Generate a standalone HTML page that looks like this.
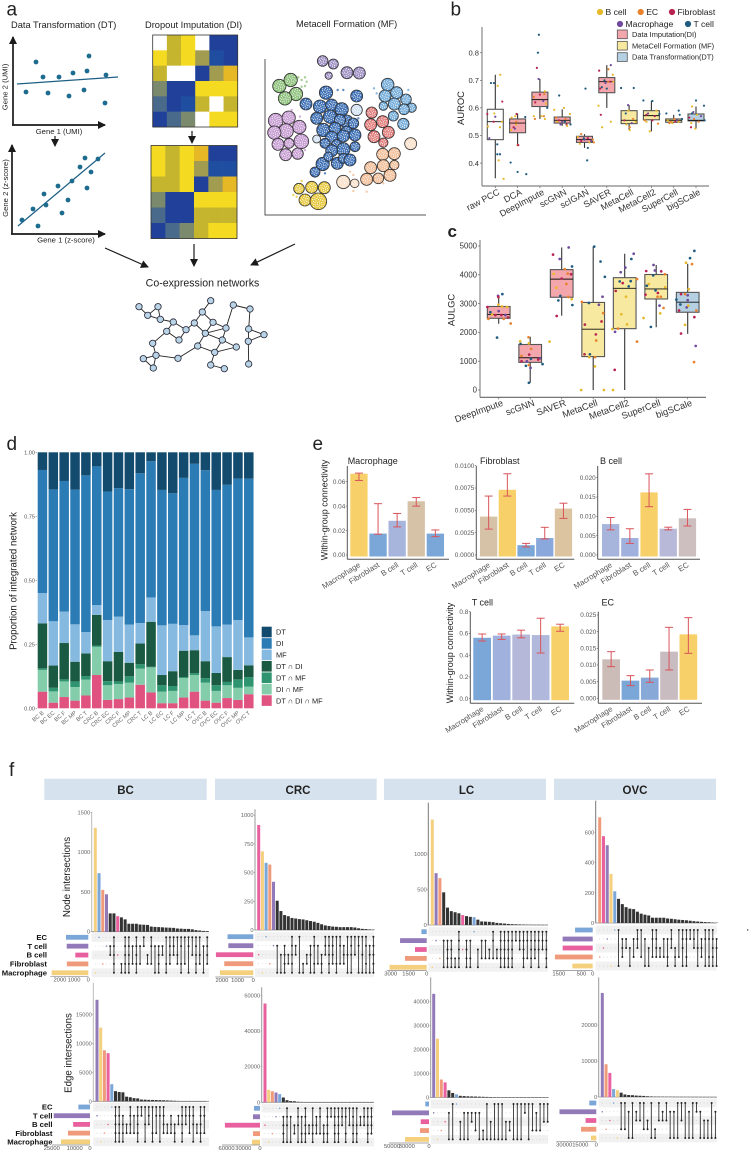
<!DOCTYPE html>
<html lang="en">
<head>
<meta charset="utf-8">
<title>Co-expression network benchmark figure</title>
<style>
html,body{margin:0;padding:0;background:#fff;width:750px;height:1154px;overflow:hidden}
svg{display:block;filter:blur(.3px)}
text{font-family:"Liberation Sans",sans-serif;fill:#222}
</style>
</head>
<body>
<svg id="figure" xmlns="http://www.w3.org/2000/svg" width="750" height="1154" viewBox="0 0 750 1154">
<defs>
<marker id="arrow-head" markerUnits="userSpaceOnUse" markerWidth="9" markerHeight="8" refX="7" refY="4" orient="auto"><path d="M0,0 L8,4 L0,8 Z" fill="#1a1a1a"/></marker>
</defs>
<g id="panel-a">
<text x="6.5" y="15.5" font-size="19">a</text>
<text x="11" y="28" font-size="9.3">Data Transformation (DT)</text>
<text x="145" y="28" font-size="9.3">Dropout Imputation (DI)</text>
<text x="296" y="27" font-size="9.3">Metacell Formation (MF)</text>
<line x1="13" y1="125" x2="13" y2="37" stroke="#1a1a1a" stroke-width="1.7" marker-end="url(#arrow-head)"/>
<line x1="12" y1="125" x2="105" y2="125" stroke="#1a1a1a" stroke-width="1.7" marker-end="url(#arrow-head)"/>
<text x="59" y="134" font-size="7.7" text-anchor="middle">Gene 1 (UMI)</text>
<text transform="rotate(-90 7.5 87)" x="7.5" y="87" font-size="7.7" text-anchor="middle">Gene 2 (UMI)</text>
<line x1="12" y1="234" x2="12" y2="145" stroke="#1a1a1a" stroke-width="1.7" marker-end="url(#arrow-head)"/>
<line x1="11" y1="234" x2="105" y2="234" stroke="#1a1a1a" stroke-width="1.7" marker-end="url(#arrow-head)"/>
<text x="66" y="242.5" font-size="7.7" text-anchor="middle">Gene 1 (z-score)</text>
<text transform="rotate(-90 8 188)" x="8" y="188" font-size="7.7" text-anchor="middle">Gene 2 (z-score)</text>
<line x1="55" y1="136" x2="55" y2="146" stroke="#1a1a1a" stroke-width="1.2" marker-end="url(#arrow-head)"/>
<line x1="192" y1="131" x2="192" y2="143" stroke="#1a1a1a" stroke-width="1.2" marker-end="url(#arrow-head)"/>
<path d="M265,59 L265,215 L426,215" fill="none" stroke="#555" stroke-width="1"/>
<line x1="105" y1="248" x2="148" y2="267" stroke="#1a1a1a" stroke-width="1.2" marker-end="url(#arrow-head)"/>
<line x1="194" y1="244" x2="194" y2="266" stroke="#1a1a1a" stroke-width="1.2" marker-end="url(#arrow-head)"/>
<line x1="295" y1="244" x2="251" y2="265" stroke="#1a1a1a" stroke-width="1.2" marker-end="url(#arrow-head)"/>
<text x="202.5" y="286.5" font-size="10.6" text-anchor="middle">Co-expression networks</text>
</g>
<text x="450.5" y="15.5" font-size="19">b</text>
<text x="447.5" y="237" font-size="17" font-weight="bold">c</text>
<text x="6.5" y="450" font-size="19">d</text>
<text x="312.5" y="450" font-size="19">e</text>
<text x="9" y="776" font-size="19">f</text>
<text transform="rotate(-90 464 108)" x="464" y="108" font-size="9.4" text-anchor="middle">AUROC</text>
<text transform="rotate(-90 454.5 310)" x="454.5" y="310" font-size="9.4" text-anchor="middle">AULGC</text>
<text transform="rotate(-90 16.5 581)" x="16.5" y="581" font-size="9.7" text-anchor="middle" fill="#333">Proportion of integrated network</text>
<text transform="rotate(-90 327.5 510)" x="327.5" y="510" font-size="9" text-anchor="middle">Within-group connectivity</text>
<text transform="rotate(-90 453 653)" x="453" y="653" font-size="9" text-anchor="middle">Within-group connectivity</text>
<text transform="rotate(-90 70 877)" x="70" y="877" font-size="9.7" text-anchor="middle">Node intersections</text>
<text transform="rotate(-90 71.5 1053)" x="71.5" y="1053" font-size="9.7" text-anchor="middle">Edge intersections</text>
<g>
<rect x="44.3" y="778.7" width="162.4" height="21.3" fill="#d6e3ee"/>
<text x="125.5" y="794" font-size="11.5" font-weight="bold" text-anchor="middle">BC</text>
<rect x="215" y="778.7" width="161.7" height="21.3" fill="#d6e3ee"/>
<text x="298" y="794" font-size="11.5" font-weight="bold" text-anchor="middle">CRC</text>
<rect x="384" y="778.7" width="162" height="21.3" fill="#d6e3ee"/>
<text x="466.5" y="794" font-size="11.5" font-weight="bold" text-anchor="middle">LC</text>
<rect x="554" y="778.7" width="162" height="21.3" fill="#d6e3ee"/>
<text x="635" y="794" font-size="11.5" font-weight="bold" text-anchor="middle">OVC</text>
</g>
<circle cx="747.7" cy="930" r="0.7" fill="#333"/>
</svg>
<script>
/* ---------- panel a data ---------- */
const umiGene1 = [23,76,30,46,60,74,93,13,35,56,71,92];
const umiGene2 = [63,69,48,48,52,54,50,33,32,29,35,22];
const umiFitGene1 = [4,105];
const umiFitGene2 = [41,48];
const zGene1 = [10,26,21,32,34,46,50,56,60,68,73,79,75,86];
const zGene2 = [14,8,25,40,29,48,21,34,53,67,76,62,46,75];
const zFitGene1 = [6,93];
const zFitGene2 = [8,81];
const heatDropout = ["WOYWBB","YOYGDB","OWWBGK","ABBYYY","SBDOWO","BSAWYY"];
const heatImputed = ["YOYKBB","YOYGDD","OOYBGK","ABBYYY","SBBOOO","BSAOYY"];
const heatPalette = {W:"#ffffff",Y:"#f5da22",O:"#c5b52e",B:"#21409a",D:"#1f4ea0",G:"#a19c50",S:"#4a6a8c",A:"#7b8a6c",K:"#e7b826"};
const metacellGroups = [
 {name:"green",color:"#8cc07a",cells:[[838,258,20],[872,240,20],[888,282,20],[855,295,20]],loose:[[895,232],[915,232],[905,240],[920,245],[905,260],[915,258]]},
 {name:"slate-purple",color:"#9a8cc0",cells:[[968,183,16],[1000,192,15],[986,227,11],[1041,218,18],[1078,219,18]],loose:[]},
 {name:"orchid",color:"#c49ad0",cells:[[827,362,22],[866,353,20],[898,381,20],[858,393,22],[823,398,20],[834,433,18],[867,430,15],[904,424,22],[857,464,18],[893,461,17]],loose:[[875,330],[900,350],[915,450]]},
 {name:"blue",color:"#3a6db3",cells:[[978,278,20],[1070,288,18],[918,312,18],[960,320,20],[995,315,18],[1025,328,20],[950,355,18],[990,350,20],[1040,365,20],[1020,360,17],[1060,370,16],[970,390,20],[1005,385,18],[1040,395,17],[1065,405,18],[1030,408,18],[995,412,18],[975,430,15],[1010,435,16],[1030,448,20],[1065,440,15],[995,452,18],[968,492,20],[985,470,14],[1012,490,18],[1030,475,15],[1050,480,18],[945,516,15]],loose:[[1013,270],[1030,270],[1070,365],[1075,355],[945,530],[975,520]]},
 {name:"pale-blue",color:"#cfdff2",cells:[[1070,330,17],[950,417,12]],loose:[]},
 {name:"light-blue",color:"#6fa9d8",cells:[[1163,254,19],[1190,278,18],[1155,288,18],[1218,298,16],[1183,312,18],[1150,318,13],[1235,323,14],[1212,328,16],[1180,348,15],[1210,372,17]],loose:[[1122,265],[1130,280],[1225,270]]},
 {name:"red",color:"#e07a78",cells:[[1115,338,17],[1112,374,18],[1148,365,18],[1165,397,18],[1122,410,18],[1150,428,14]],loose:[]},
 {name:"peach",color:"#f2bd96",cells:[[1148,463,18],[1183,461,18],[1150,497,18],[1112,503,18],[1183,495,14],[1100,538,18],[1135,535,16],[1170,526,18]],loose:[[1050,515],[1060,525],[1100,575],[1060,573],[1150,550]]},
 {name:"pale-peach",color:"#f9dfc8",cells:[[1232,431,18],[1030,546,20],[1064,550,13]],loose:[]},
 {name:"yellow",color:"#e7c83e",cells:[[897,566,16],[935,562,18],[973,563,18],[915,600,18],[955,604,25]],loose:[[880,585],[890,590],[905,543]]}
];
const networkNodes = [[139,306.7],[147.7,315.3],[158,306.7],[160.3,319.3],[173.3,322],[166.7,331.3],[186,329.7],[179,340],[152.7,343.3],[156,355.3],[143.3,358.7],[153.3,368],[178,358.3],[194.3,323],[202.3,312],[210.7,300.7],[213,322.3],[205.3,333.3],[226,328],[222.3,340],[197.7,346],[214.7,352.3],[236.3,347],[210.7,365],[224.3,368.7],[233.3,305],[250,309],[248.7,329],[264,334.7],[248.3,341.3],[248.7,364]];
const networkEdges = [[0,1],[1,2],[1,3],[2,3],[3,4],[4,5],[4,6],[5,7],[6,7],[5,8],[8,9],[9,10],[9,11],[10,11],[9,12],[12,20],[6,13],[13,14],[14,15],[14,16],[13,17],[16,17],[16,18],[17,18],[17,19],[17,20],[18,19],[19,22],[19,21],[20,21],[21,22],[21,23],[23,24],[18,25],[25,26],[26,27],[27,28],[27,29],[28,29],[29,30]];

/* ---------- panel b data ---------- */
const aurocCategories = ["raw PCC","DCA","DeepImpute","scGNN","scIGAN","SAVER","MetaCell","MetaCell2","SuperCell","bigSCale"];
const aurocTicks = ["0.4","0.5","0.6","0.7","0.8"];
const aurocQ1 = [.485,.51,.605,.545,.475,.655,.543,.557,.548,.553];
const aurocMedian = [.55,.545,.63,.555,.485,.695,.555,.572,.555,.555];
const aurocQ3 = [.595,.56,.657,.567,.497,.71,.59,.59,.56,.578];
const aurocLow = [.345,.465,.56,.535,.455,.60,.52,.515,.545,.525];
const aurocHigh = [.72,.58,.705,.595,.505,.755,.61,.625,.575,.605];
const aurocMethod = ["raw","DI","DI","DI","DI","DI","MF","MF","MF","DT"];
const aurocPoints = [
 [["T",-13,.69],["T",-4,.69],["Y",15,.72],["Y",7,.68],["F",21,.623],["F",-24,.578],["Y",-3,.58],["M",0,.568],["Y",20,.55],["Y",-22,.533],["Y",14,.53],["F",-5,.55],["T",6,.468],["T",6,.432],["T",14,.432],["Y",10,.41],["Y",25,.343],["M",-18,.49]],
 [["T",-21,.402],["T",0,.368],["T",26,.36],["F",-3,.578],["Y",-7,.57],["T",23,.567],["Y",-18,.565],["E",-4,.55],["Y",-4,.54],["F",-12,.53],["M",-8,.525],["Y",-20,.52],["E",0,.465],["F",2,.465]],
 [["T",-3,.865],["T",-6,.80],["F",-9,.745],["M",-4,.705],["Y",15,.66],["E",13,.65],["F",0,.648],["E",-18,.64],["M",10,.625],["Y",18,.615],["T",22,.60],["F",-14,.62],["Y",-18,.57],["Y",5,.57],["E",12,.57],["Y",15,.56],["E",-15,.56]],
 [["T",-9,.645],["Y",-24,.593],["Y",5,.60],["Y",23,.578],["E",-18,.565],["F",-10,.555],["M",0,.55],["T",8,.55],["E",10,.56],["T",25,.54],["F",13,.54],["Y",-15,.55],["Y",15,.535],["M",-5,.54]],
 [["T",3,.67],["T",8,.41],["T",10,.455],["E",-10,.505],["Y",-20,.495],["F",10,.49],["M",0,.485],["Y",15,.475],["E",28,.475],["F",-10,.48],["Y",-14,.47],["M",20,.48],["E",25,.485],["T",-2,.49]],
 [["F",-23,.735],["Y",-25,.608],["F",-18,.575],["Y",-14,.53],["Y",12,.55],["M",12,.755],["E",5,.74],["Y",18,.72],["T",-7,.70],["E",5,.695],["T",-15,.675],["F",-20,.67],["M",-4,.69],["T",0,.67],["F",10,.695],["Y",20,.695]],
 [["T",-24,.672],["T",14,.672],["M",-3,.61],["T",-10,.58],["F",-14,.555],["Y",-2,.59],["E",12,.56],["Y",-8,.54],["Y",20,.55],["E",2,.53],["Y",2,.52],["M",8,.545]],
 [["T",-24,.627],["T",3,.625],["F",-15,.575],["E",-20,.555],["Y",-15,.55],["Y",-5,.515],["M",-10,.58],["Y",15,.59],["T",24,.578],["F",10,.57],["E",20,.543],["F",3,.555]],
 [["T",-22,.58],["T",15,.59],["T",18,.575],["Y",-18,.555],["E",-8,.55],["Y",-4,.545],["F",5,.55],["M",10,.555],["E",-13,.545],["T",25,.56],["E",2,.56],["Y",15,.55]],
 [["T",0,.627],["T",24,.608],["Y",-12,.605],["M",-8,.585],["F",-20,.565],["F",-15,.53],["Y",-14,.545],["E",-6,.56],["Y",-2,.525],["T",-12,.58],["M",15,.57],["E",8,.55],["T",26,.555],["Y",3,.575]]
];

/* ---------- panel c data ---------- */
const aulgcCategories = ["DeepImpute","scGNN","SAVER","MetaCell","MetaCell2","SuperCell","bigSCale"];
const aulgcTicks = ["0","1000","2000","3000","4000","5000"];
const aulgcQ1 = [2490,960,3220,1160,2130,3160,2700];
const aulgcMedian = [2620,1120,3850,2110,3530,3510,3050];
const aulgcQ3 = [2900,1580,4180,3040,3900,4010,3390];
const aulgcLow = [2300,250,2580,0,0,2180,1950];
const aulgcHigh = [3300,1850,4950,4980,4730,4340,4380];
const aulgcMethod = ["DI","DI","DI","MF","MF","MF","DT"];
const aulgcPoints = [
 [["F",-34,2880],["E",-31,2470],["M",-2,3270],["F",-1,3230],["T",11,3330],["Y",-1,2960],["Y",10,2900],["T",-25,2700],["F",-10,2600],["F",8,2600],["M",0,2740],["E",15,2470],["T",-5,1820],["E",36,2310],["F",28,2520],["Y",25,2880],["M",20,2600],["Y",-20,2620]],
 [["Y",-30,1690],["T",-29,1600],["E",-5,1830],["Y",-4,1620],["E",3,1430],["F",-3,1230],["F",-26,1000],["E",-26,1180],["M",-10,1000],["T",2,1080],["M",29,1100],["F",24,1060],["T",-13,840],["E",-4,870],["M",1,770],["T",-4,250],["T",37,900],["Y",58,1680]],
 [["F",-26,4700],["M",21,4950],["M",-6,4550],["T",31,4290],["E",9,4200],["Y",-24,4030],["E",18,4040],["F",0,3870],["F",28,4020],["E",14,3680],["Y",-16,3550],["E",20,3230],["Y",30,3150],["T",-4,3270],["T",-10,3110],["T",32,2950],["F",-15,2570]],
 [["T",3,4980],["T",22,4460],["T",35,3930],["M",28,3240],["E",-34,3060],["T",-13,3020],["M",17,2960],["E",30,2670],["F",25,2380],["F",-25,2270],["F",8,1930],["E",9,1720],["F",-26,1240],["T",-10,1240],["Y",-12,1140],["E",6,1140],["Y",5,820],["Y",-36,0],["Y",32,0]],
 [["M",27,4730],["T",20,4550],["M",-12,4090],["T",-15,3770],["F",-6,3710],["T",18,3780],["T",12,3600],["E",37,3850],["M",2,4250],["F",-27,3440],["Y",4,3240],["Y",-10,2630],["Y",7,2280],["Y",-37,2120],["E",-20,2130],["M",-29,2020],["F",-30,700],["Y",-35,0],["E",37,1680]],
 [["F",-30,4130],["M",-8,4340],["T",-9,3980],["M",-4,4150],["F",15,4120],["E",26,4020],["T",-28,3620],["Y",-22,3680],["F",-32,3310],["T",-2,3460],["F",5,3370],["Y",27,3570],["E",4,3240],["E",14,3240],["M",10,2930],["Y",12,2660],["E",22,2850],["Y",-38,2500],["T",-16,2190]],
 [["Y",-5,4420],["E",13,4370],["T",7,4580],["T",20,4830],["T",-34,3140],["F",-20,3330],["E",-8,3330],["Y",3,3500],["M",0,3290],["M",0,3120],["T",-22,2970],["F",-26,2760],["M",-3,2870],["Y",2,2930],["E",26,2760],["Y",-8,2260],["F",20,2530],["F",-20,1960],["M",24,1530],["E",19,970]]
];
const cellTypeColor = {Y:"#e8b82a",E:"#e9822e",F:"#b8234f",M:"#6f4a9e",T:"#1f5a7f"};
const methodFill = {raw:"#ffffff",DI:"#f4a6ad",MF:"#f7e9a0",DT:"#b5cfe3"};
const legendCells = ["B cell","EC","Fibroblast","Macrophage","T cell"];
const legendMethods = ["Data Imputation(DI)","MetaCell Formation (MF)","Data Transformation(DT)"];

/* ---------- panel d data ---------- */
const stackCategories = ["BC B","BC EC","BC F","BC MP","BC T","CRC B","CRC EC","CRC F","CRC MP","CRC T","LC B","LC EC","LC F","LC MP","LC T","OVC B","OVC EC","OVC F","OVC MP","OVC T"];
const stackTicks = ["0.00","0.25","0.50","0.75","1.00"];
const shareAll = [.065,.022,.044,.03,.05,.13,.033,.036,.042,.092,.062,.02,.02,.042,.065,.03,.022,.04,.033,.055];
const shareDIMF = [.085,.044,.061,.053,.062,.11,.057,.059,.058,.063,.098,.045,.048,.076,.065,.07,.046,.05,.047,.03];
const shareDTMF = [.006,.014,.008,.022,.014,.005,.016,.01,.025,.017,.002,.025,.019,.004,.007,.018,.022,.013,.033,.037];
const shareDTDI = [.176,.087,.142,.077,.088,.12,.078,.115,.053,.081,.176,.04,.058,.103,.09,.066,.048,.097,.037,.046];
const shareMF = [.118,.173,.123,.146,.084,.038,.161,.138,.149,.08,.095,.194,.185,.1,.058,.196,.182,.127,.195,.109];
const shareDI = [.481,.515,.51,.526,.612,.542,.502,.502,.529,.585,.532,.529,.51,.575,.67,.55,.533,.546,.552,.62];
const shareDT = [.069,.145,.112,.146,.09,.055,.153,.14,.144,.082,.035,.147,.16,.1,.045,.07,.147,.127,.103,.103];
const stackLegendNames = ["DT","DI","MF","DT ∩ DI","DT ∩ MF","DI ∩ MF","DT ∩ DI ∩ MF"];
const stackColors = ["#134b6e","#2b7bb5","#86b9e0","#1a5a42","#2f9570","#84cdaa","#e0527f"];

/* ---------- panel e data ---------- */
const connectivityCategories = ["Macrophage","Fibroblast","B cell","T cell","EC"];
const macrophageValues = [.0665,.0175,.028,.044,.0175];
const macrophageLow = [.061,.017,.023,.04,.015];
const macrophageHigh = [.067,.042,.034,.047,.0205];
const macrophageTicks = ["0.00","0.02","0.04","0.06"];
const macrophageColors = ["#f8d06a","#7ba6d8","#a7b5dc","#d6c3a7","#7ba6d8"];
const fibroblastValues = [.0043,.0073,.0011,.0019,.0052];
const fibroblastLow = [.0029,.0066,.0009,.0018,.0041];
const fibroblastHigh = [.0066,.0091,.0013,.0031,.0058];
const fibroblastTicks = ["0.0000","0.0025","0.0050","0.0075","0.0100"];
const fibroblastColors = ["#d6c3a7","#f8d06a","#7ba6d8","#8ba8dc","#dcc4a0"];
const bcellValues = [.008,.0044,.0162,.0068,.0095];
const bcellLow = [.0065,.003,.0125,.0065,.0075];
const bcellHigh = [.0097,.0068,.021,.0072,.0118];
const bcellTicks = ["0.000","0.005","0.010","0.015","0.020"];
const bcellColors = ["#a7b5dc","#9fb1dc","#f8d06a","#b8b8d8","#cdbfc0"];
const tcellValues = [.56,.58,.59,.585,.665];
const tcellLow = [.53,.545,.56,.42,.62];
const tcellHigh = [.595,.595,.63,.74,.685];
const tcellTicks = ["0.0","0.2","0.4","0.6","0.8"];
const tcellColors = ["#7ba6d8","#9fb1dc","#b5b8d8","#b0b8dc","#f8d06a"];
const ecValues = [.0117,.0053,.0062,.014,.0192];
const ecLow = [.0095,.0038,.0048,.0085,.0135];
const ecHigh = [.014,.0068,.0085,.0213,.0242];
const ecTicks = ["0.000","0.005","0.010","0.015","0.020","0.025"];
const ecColors = ["#cbbcb8","#7ba6d8","#88a8d8","#c8bcc0","#f8d06a"];

/* ---------- panel f data ---------- */
const setNames = ["EC","T cell","B cell","Fibroblast","Macrophage"];
const setLetters = ["E","T","B","F","M"];
const setColors = {E:"#7ba6d8",T:"#9279b8",B:"#e8609e",F:"#ef9a7a",M:"#f4cf7e"};
const bcNodeValues = [1305,735,525,470,230,230,195,180,155,100,100,100,90,88,85,65,60,58,55,52,50,48,40,38,35,35,30,20,15,10,8];
const bcNodeSets = "M E F T TB ETBFM B FM ETBFM ETBFM TF ETBFM TF ET BF ETF TM TBFM TB EFM ETBF ETB EBF ETFM EF ETM EB ETBFM EBF TM ETBF".split(" ");
const bcNodeSetSizes = [1570,1520,915,1510,2580];
const bcNodeTicks = [0,500,1000,1500];
const bcNodeSetTicks = [2000,1000,0];
const crcNodeValues = [915,685,585,570,420,255,165,130,120,105,100,95,92,85,78,72,62,50,40,35,30,28,25,25,25,25,22,15,10,8,5,3];
const crcNodeSets = "B M E F T TM BM TBFM BF ETBFM TB EM FM BF TBM ETFM TF BFM ETB ETBFM ETBF EFM ETF TBF EBM ETBM EB ETM EBM ETFM TBM ETBFM".split(" ");
const crcNodeSetSizes = [1640,1590,2380,1850,2120];
const crcNodeTicks = [0,250,500,750,1000];
const crcNodeSetTicks = [2000,1000,0];
const lcNodeValues = [1485,730,660,460,245,195,180,165,140,125,115,110,75,50,48,45,40,30,25,20,15,12,10,8,6,5,4,3,3,2,2];
const lcNodeSets = "M T F TM TBFM TBFM FM ETBFM B TBFM TFM E BM TF TF BF ETF BF ETBFM ETBFM ETBFM ETBFM ET ETB ETBFM ETF ETBFM ETBF ETBM ETB ETBFM".split(" ");
const lcNodeSetSizes = [440,2220,975,1810,3100];
const lcNodeTicks = [0,500,1000];
const lcNodeSetTicks = [3000,1500,0];
const ovcNodeValues = [700,575,515,325,210,160,125,105,95,92,75,62,55,50,35,35,35,35,30,28,25,22,20,18,15,12,10,8,6,5,3,2];
const ovcNodeSets = "F B T M E EM TBF TB BM TF ETB EF TM BM ETF ETBF BF TF TFM ETB BFM EF ETBM ETFM ET ETB EBM TBF ETM ETFM ETBFM TBM".split(" ");
const ovcNodeSetSizes = [780,1330,1330,1670,900];
const ovcNodeTicks = [0,200,400,600];
const ovcNodeSetTicks = [1500,500,0];
const bcEdgeValues = [17500,12700,8800,8300,2950,1750,1600,1550,800,700,550,500,300,280,250,230,220,200,180,150,120,90,60,40,30,25,20,15,10,5];
const bcEdgeSets = "T M F B E ETBFM ETBFM TBFM BF ETBF TF ETBFM ET EBM ETB EFM ETF ETM ETBF BF TBF BFM TB ETBFM ETB ETF ETBM BF ETBFM ETF".split(" ");
const bcEdgeSetSizes = [7600,23700,11000,14400,19000];
const bcEdgeTicks = [0,5000,10000,15000];
const bcEdgeSetTicks = [25000,10000,0];
const crcEdgeValues = [55500,7000,6200,5500,4600,2700,1200,700,600,300,200,150,100,90,80,70,60,50,40,35,30,25,20,20,15,15,10,10,5,5];
const crcEdgeSets = "B M F T E TBFM ETBM TM BF ETBM TFM ETBFM BF EBFM TBF ETF BFM ETBFM ET ETBFM ETBFM ETB ETFM EB ETBFM EBFM TB ETB ETBFM ETBF".split(" ");
const crcEdgeSetSizes = [10800,12600,63000,12600,14400];
const crcEdgeTicks = [0,20000,40000,60000];
const crcEdgeSetTicks = [60000,30000,0];
const lcEdgeValues = [43200,24500,7500,6300,3000,1900,1300,700,600,500,450,400,350,300,250,200,150,130,110,100,90,80,70,60,50,40,30,25,20,15,10];
const lcEdgeSets = "T M F B TM EM E BM TM TM TB TF TM FM EM BM EM EM EM BM BF EM EM EM ET EM EF TF EF EB EB".split(" ");
const lcEdgeSetSizes = [5000,50000,11200,12200,32400];
const lcEdgeTicks = [0,10000,20000,30000,40000];
const lcEdgeSetTicks = [50000,30000,0];
const ovcEdgeValues = [28900,9100,6700,2200,1900,1200,700,550,500,400,350,300,200,150,100,100,90,80,70,60,50,45,40,35,30,25,20,15,10,8,5];
const ovcEdgeSets = "T F B E M EF EF TM EM TB EB EF BF EM FM EB TB EB TM TM EM EB EM TM EM ET TM BM BM EM TM".split(" ");
const ovcEdgeSetSizes = [6560,34400,10000,14300,5000];
const ovcEdgeTicks = [0,10000,20000];
const ovcEdgeSetTicks = [30000,15000,0];

/* ---------- helpers ---------- */
const NS = "http://www.w3.org/2000/svg";
const root = document.getElementById("figure");
function add(parent, tag, name, attrs, text) {
  const n = document.createElementNS(NS, tag);
  
  
  for (const k in attrs) n.setAttribute(k, attrs[k]);
  if (text !== undefined) n.textContent = text;
  parent.appendChild(n);
  return n;
}
function line(p, name, x1, y1, x2, y2, stroke, w) {
  return add(p, "line", name, {x1, y1, x2, y2, stroke, "stroke-width": w});
}
function label(p, name, x, y, str, size, fill, anchor, rot, extra) {
  const a = {x, y, "font-size": size, "text-anchor": anchor || "start", style: "fill:" + fill};
  if (rot) a.transform = "rotate(" + rot + " " + x + " " + y + ")";
  if (extra) Object.assign(a, extra);
  return add(p, "text", name, a, str);
}

/* ---------- panel a ---------- */
function scatterPanel(name, gx, gy, fx, fy, x0, y0) {
  const g = add(root, "g", name, {});
  const sx = v => x0 + v;
  const sy = v => y0 - v;
  line(g, name + "-fit-line", sx(fx[0]), sy(fy[0]), sx(fx[1]), sy(fy[1]), "#1d5f85", 1.2);
  gx.forEach((v, i) => add(g, "circle", name + "-point", {cx: sx(v), cy: sy(gy[i]), r: 2.4, fill: "#1d6b8f"}));
}
scatterPanel("umi-scatter", umiGene1, umiGene2, umiFitGene1, umiFitGene2, 13, 125);
scatterPanel("zscore-scatter", zGene1, zGene2, zFitGene1, zFitGene2, 12, 234);
function heatmap(name, rows, x, y, w, h) {
  const g = add(root, "g", name, {});
  const cw = w / 6, ch = h / rows.length;
  rows.forEach((r, i) => r.split("").forEach((c, j) => {
    add(g, "rect", name + "-cell", {x: x + j * cw, y: y + i * ch, width: cw + .3, height: ch + .3, fill: heatPalette[c]});
  }));
  add(g, "rect", name + "-frame", {x, y, width: w, height: h, fill: "none", stroke: "#333", "stroke-width": .8});
}
heatmap("dropout-heatmap", heatDropout, 152.7, 35, 85, 92);
heatmap("imputed-heatmap", heatImputed, 151, 145.5, 86, 93);
(function metacells() {
  const g = add(root, "g", "metacell-map", {});
  metacellGroups.forEach(grp => {
    grp.loose.forEach(p => add(g, "circle", grp.name + "-loose-cell", {cx: p[0] / 3, cy: p[1] / 3, r: 1.2, fill: grp.color, opacity: .8}));
    grp.cells.forEach(c => {
      const cx = c[0] / 3, cy = c[1] / 3, r = c[2] / 3;
      add(g, "circle", grp.name + "-metacell", {cx, cy, r, fill: grp.color, stroke: "#333", "stroke-width": .8});
      const n = Math.max(3, Math.round(r * r * 0.55));
      for (let k = 0; k < n; k++) {
        const rad = Math.sqrt((k + .5) / n) * (r - 1.1), th = k * 2.39996;
        add(g, "circle", grp.name + "-cell-dot", {cx: cx + rad * Math.cos(th), cy: cy + rad * Math.sin(th), r: .6, fill: "#fff", opacity: .85});
      }
    });
  });
})();
(function network() {
  const g = add(root, "g", "coexpression-network", {});
  networkEdges.forEach(e => {
    const a = networkNodes[e[0]], b = networkNodes[e[1]];
    line(g, "network-edge", a[0], a[1], b[0], b[1], "#222", .9);
  });
  networkNodes.forEach(n => add(g, "circle", "network-node", {cx: n[0], cy: n[1], r: 3.2, fill: "#b9d4e6", stroke: "#223", "stroke-width": .8}));
})();

/* ---------- panels b, c ---------- */
function boxPanel(cfg, cats, q1, med, q3, lo, hi, method, points, ticks) {
  const g = add(root, "g", cfg.name, {});
  const y = v => cfg.y0 - v * cfg.pxPer;
  const x = i => cfg.x0 + i * cfg.band;
  line(g, cfg.name + "-y-axis", cfg.axisX, cfg.top, cfg.axisX, cfg.axisY, "#999", 1.4);
  line(g, cfg.name + "-x-axis", cfg.axisX, cfg.axisY, cfg.right, cfg.axisY, "#666", 1.1);
  ticks.forEach(t => {
    const yy = y(parseFloat(t));
    line(g, cfg.name + "-y-tick", cfg.axisX - 2, yy, cfg.axisX, yy, "#666", .7);
    label(g, cfg.name + "-y-tick-label", cfg.axisX - 3, yy + 2.7, t, cfg.tickSize, "#333", "end");
  });
  cats.forEach((c, i) => {
    const cx = x(i), hw = cfg.boxW / 2;
    line(g, cfg.name + "-x-tick", cx, cfg.axisY, cx, cfg.axisY + 2, "#666", .7);
    label(g, cfg.name + "-x-label", cx + cfg.labelDx, cfg.axisY + cfg.labelDy, c, cfg.labelSize, "#333", "end", cfg.angle);
    line(g, cfg.name + "-whisker", cx, y(lo[i]), cx, y(hi[i]), "#333", 1.1);
    add(g, "rect", cfg.name + "-box", {x: cx - hw, y: y(q3[i]), width: cfg.boxW, height: y(q1[i]) - y(q3[i]), fill: methodFill[method[i]], stroke: "#555", "stroke-width": 1.1});
    line(g, cfg.name + "-median", cx - hw, y(med[i]), cx + hw, y(med[i]), "#111", .9);
    points[i].forEach(p => {
      add(g, "circle", cfg.name + "-point", {cx: cx + p[1] * cfg.band / cfg.jitterBand, cy: y(p[2]), r: cfg.dot, fill: cellTypeColor[p[0]]});
    });
  });
}
boxPanel({name:"auroc-boxplot",x0:495.3,band:22.3,boxW:16,y0:52.7+.8*276,pxPer:276,axisX:482,top:27,axisY:186,right:709,tickSize:7.6,labelSize:9,labelDx:5,labelDy:8,angle:-28,jitterBand:67,dot:1.1},
  aurocCategories,aurocQ1,aurocMedian,aurocQ3,aurocLow,aurocHigh,aurocMethod,aurocPoints,aurocTicks);
boxPanel({name:"aulgc-boxplot",x0:498.7,band:31.5,boxW:22.7,y0:390,pxPer:.0288,axisX:480,top:240,axisY:397.3,right:706,tickSize:7.8,labelSize:9.3,labelDx:5,labelDy:8,angle:-20,jitterBand:94.5,dot:1.35},
  aulgcCategories,aulgcQ1,aulgcMedian,aulgcQ3,aulgcLow,aulgcHigh,aulgcMethod,aulgcPoints,aulgcTicks);
(function bLegend() {
  const g = add(root, "g", "cell-type-legend", {});
  const keys = ["Y","E","F","M","T"];
  const dotX = [600,640.7,672,620,688];
  const dotY = [12,12,12,24,24];
  legendCells.forEach((t, i) => {
    add(g, "circle", "legend-dot", {cx: dotX[i], cy: dotY[i], r: 3.1, fill: cellTypeColor[keys[i]]});
    label(g, "legend-label", dotX[i] + 5.5, dotY[i] + 3, t, 8.6, "#222");
  });
  const m = add(root, "g", "method-legend", {});
  const methods = ["DI","MF","DT"];
  legendMethods.forEach((t, i) => {
    add(m, "rect", "method-swatch", {x: 617.3, y: 30 + i * 11.35, width: 10, height: 8.7, fill: methodFill[methods[i]], stroke: "#555", "stroke-width": .8});
    label(m, "method-label", 632, 37 + i * 11.35, t, 7.4, "#222");
  });
})();

/* ---------- panel d ---------- */
(function stacked() {
  const g = add(root, "g", "stacked-proportion-chart", {});
  const series = [shareAll, shareDIMF, shareDTMF, shareDTDI, shareMF, shareDI, shareDT];
  const colors = stackColors.slice().reverse();
  const y0 = 708.3, h = 256;
  const y = v => y0 - v * h;
  const x = i => 37.7 + i * 10.86;
  stackTicks.forEach(t => {
    const yy = y(parseFloat(t));
    line(g, "stack-y-tick", 35.5, yy, 37, yy, "#777", .5);
    label(g, "stack-y-tick-label", 35, yy + 2, t, 5.6, "#555", "end");
  });
  stackCategories.forEach((c, i) => {
    let cum = 0;
    const total = series.reduce((s, a) => s + a[i], 0);
    series.forEach((s, k) => {
      const v = s[i] / total;
      add(g, "rect", "stack-segment", {x: x(i), y: y(cum + v), width: 9.5, height: v * h, fill: colors[k]});
      cum += v;
    });
    label(g, "stack-x-label", x(i) + 6.5, 713.5, c, 5.6, "#666", "end", -40);
  });
  stackLegendNames.forEach((t, i) => {
    const yy = 626.7 + i * 11.43;
    add(g, "rect", "stack-legend-swatch", {x: 261.7, y: yy, width: 10, height: 10.6, fill: stackColors[i]});
    label(g, "stack-legend-label", 276, yy + 8, t, 7.4, "#222");
  });
})();

/* ---------- panel e ---------- */
function barPanel(cfg, vals, low, high, ticks, colors) {
  const g = add(root, "g", cfg.name, {});
  const y = v => cfg.y0 - v * cfg.pxPer;
  label(g, cfg.name + "-title", cfg.titleX, cfg.titleY, cfg.title, 9, "#222");
  line(g, cfg.name + "-y-axis", cfg.axisX, cfg.top, cfg.axisX, cfg.axisY, "#555", 1);
  line(g, cfg.name + "-x-axis", cfg.axisX, cfg.axisY, cfg.right, cfg.axisY, "#555", 1);
  ticks.forEach(t => {
    const yy = y(parseFloat(t));
    line(g, cfg.name + "-y-tick", cfg.axisX - 1.5, yy, cfg.axisX, yy, "#555", .6);
    label(g, cfg.name + "-y-tick-label", cfg.axisX - 2, yy + 2.2, t, 6.4, "#555", "end");
  });
  connectivityCategories.forEach((c, i) => {
    const bx = cfg.x0 + i * cfg.step, cx = bx + cfg.barW / 2;
    add(g, "rect", cfg.name + "-bar", {x: bx, y: y(vals[i]), width: cfg.barW, height: cfg.y0 + 1.5 - y(vals[i]), fill: colors[i]});
    line(g, cfg.name + "-error-stem", cx, y(low[i]), cx, y(high[i]), "#d9545a", 1);
    line(g, cfg.name + "-error-cap-high", cx - 4, y(high[i]), cx + 4, y(high[i]), "#d9545a", 1);
    line(g, cfg.name + "-error-cap-low", cx - 4, y(low[i]), cx + 4, y(low[i]), "#d9545a", 1);
    label(g, cfg.name + "-x-label", cx + 2, cfg.axisY + 7, c, 7.8, "#555", "end", -32);
  });
}
barPanel({name:"macrophage-bars",title:"Macrophage",titleX:347.7,titleY:464,axisX:347.3,top:466,axisY:559.3,right:449,y0:555,pxPer:1222,x0:350.3,step:19.1,barW:17.3},macrophageValues,macrophageLow,macrophageHigh,macrophageTicks,macrophageColors);
barPanel({name:"fibroblast-bars",title:"Fibroblast",titleX:480,titleY:464,axisX:476.3,top:466,axisY:559.3,right:574.3,y0:555,pxPer:8930,x0:480,step:18.7,barW:17.3},fibroblastValues,fibroblastLow,fibroblastHigh,fibroblastTicks,fibroblastColors);
barPanel({name:"bcell-bars",title:"B cell",titleX:600,titleY:464,axisX:597.7,top:466,axisY:559.3,right:700,y0:555,pxPer:3865,x0:602,step:19.2,barW:17.3},bcellValues,bcellLow,bcellHigh,bcellTicks,bcellColors);
barPanel({name:"tcell-bars",title:"T cell",titleX:471.7,titleY:605.3,axisX:470.3,top:611.7,axisY:703.3,right:574.3,y0:698.7,pxPer:108.75,x0:473.3,step:19.5,barW:17.7},tcellValues,tcellLow,tcellHigh,tcellTicks,tcellColors);
barPanel({name:"ec-bars",title:"EC",titleX:601.5,titleY:605.3,axisX:598.3,top:611.7,axisY:703.3,right:702,y0:698.3,pxPer:3332,x0:602.3,step:19.3,barW:17.7},ecValues,ecLow,ecHigh,ecTicks,ecColors);

/* ---------- panel f ---------- */
function upset(cfg, values, sets, setSizes, ticks, setTicks) {
  const g = add(root, "g", cfg.name, {});
  const y = v => cfg.base - v * cfg.pxPer;
  const bx = i => cfg.firstBar + i * cfg.step;
  const rowY = r => cfg.row0 + r * cfg.rowStep;
  for (let r = 0; r < 5; r += 2) {
    add(g, "rect", cfg.name + "-matrix-stripe", {x: cfg.axisX, y: rowY(r) - cfg.rowStep / 2, width: cfg.matrixRight - cfg.axisX, height: cfg.rowStep, fill: "#f1f1f1"});
  }
  line(g, cfg.name + "-y-axis", cfg.axisX, cfg.top, cfg.axisX, cfg.base, cfg.axisColor, 1);
  line(g, cfg.name + "-x-axis", cfg.axisX, cfg.base, cfg.matrixRight, cfg.base, "#888", .8);
  ticks.forEach(t => {
    const yy = y(t);
    line(g, cfg.name + "-y-tick", cfg.axisX - 1.2, yy, cfg.axisX, yy, "#888", .5);
    label(g, cfg.name + "-y-tick-label", cfg.axisX - 1.5, yy + 2, String(t), 5.7, "#666", "end");
  });
  values.forEach((v, i) => {
    const members = sets[i];
    const single = members.length === 1;
    add(g, "rect", cfg.name + "-intersection-bar", {x: bx(i) - 1.5, y: y(v), width: 3, height: Math.max(v * cfg.pxPer, .3), fill: single ? setColors[members] : "#333"});
    const rows = [];
    setLetters.forEach((s, r) => {
      const on = members.indexOf(s) >= 0;
      if (on) rows.push(r);
      else add(g, "circle", cfg.name + "-matrix-empty-dot", {cx: bx(i), cy: rowY(r), r: .45, fill: "#ccc"});
    });
    if (rows.length > 1) line(g, cfg.name + "-matrix-link", bx(i), rowY(rows[0]), bx(i), rowY(rows[rows.length - 1]), "#333", .9);
    rows.forEach(r => add(g, "circle", cfg.name + "-matrix-dot", {cx: bx(i), cy: rowY(r), r: single ? .8 : 1, fill: single ? setColors[members] : "#222"}));
  });
  setLetters.forEach((s, r) => {
    const w = setSizes[r] * cfg.setPx;
    add(g, "rect", cfg.name + "-set-bar", {x: cfg.setRight - w, y: rowY(r) - 2.4, width: w, height: 4.8, fill: setColors[s]});
    if (cfg.labelRight) label(g, cfg.name + "-set-label", cfg.labelRight, rowY(r) + 2.7, setNames[r], 7.7, "#111", "end", 0, {"font-weight": "bold"});
  });
  line(g, cfg.name + "-set-axis", cfg.setRight - cfg.setAxisLen, cfg.setAxisY, cfg.setRight, cfg.setAxisY, "#888", .7);
  setTicks.forEach(t => {
    label(g, cfg.name + "-set-tick-label", cfg.setRight - t * cfg.setPx, cfg.setAxisY + 5, String(t), 5.8, "#555", "middle");
  });
}
upset({name:"bc-node-upset",axisX:91.7,top:811.7,base:931.7,pxPer:.0796,firstBar:95.3,step:3.73,matrixRight:209,row0:937.3,rowStep:8.87,setRight:88.3,setPx:.0142,setAxisLen:38,setAxisY:976.7,labelRight:47,axisColor:"#bbb"},bcNodeValues,bcNodeSets,bcNodeSetSizes,bcNodeTicks,bcNodeSetTicks);
upset({name:"crc-node-upset",axisX:255,top:809.3,base:930,pxPer:.1148,firstBar:258.7,step:3.7,matrixRight:374,row0:936.7,rowStep:9,setRight:253.3,setPx:.0157,setAxisLen:38,setAxisY:977,axisColor:"#999"},crcNodeValues,crcNodeSets,crcNodeSetSizes,crcNodeTicks,crcNodeSetTicks);
upset({name:"lc-node-upset",axisX:428.3,top:802.7,base:925,pxPer:.071,firstBar:432.3,step:3.8,matrixRight:548,row0:931.7,rowStep:8.9,setRight:426.7,setPx:.012,setAxisLen:40,setAxisY:970.5,axisColor:"#777"},lcNodeValues,lcNodeSets,lcNodeSetSizes,lcNodeTicks,lcNodeSetTicks);
upset({name:"ovc-node-upset",axisX:595.7,top:800.7,base:923,pxPer:.151,firstBar:599.7,step:3.77,matrixRight:716.7,row0:930,rowStep:9,setRight:592.7,setPx:.0226,setAxisLen:40,setAxisY:970.5,axisColor:"#777"},ovcNodeValues,ovcNodeSets,ovcNodeSetSizes,ovcNodeTicks,ovcNodeSetTicks);
upset({name:"bc-edge-upset",axisX:93.3,top:982.7,base:1101.3,pxPer:.0058,firstBar:97,step:3.7,matrixRight:209,row0:1107,rowStep:8.7,setRight:90,setPx:.00153,setAxisLen:38,setAxisY:1145,labelRight:52.5,axisColor:"#bbb"},bcEdgeValues,bcEdgeSets,bcEdgeSetSizes,bcEdgeTicks,bcEdgeSetTicks);
upset({name:"crc-edge-upset",axisX:261.7,top:987.3,base:1102.3,pxPer:.00178,firstBar:265,step:3.67,matrixRight:374,row0:1108.3,rowStep:8.45,setRight:260,setPx:.000557,setAxisLen:38,setAxisY:1145,axisColor:"#999"},crcEdgeValues,crcEdgeSets,crcEdgeSetSizes,crcEdgeTicks,crcEdgeSetTicks);
upset({name:"lc-edge-upset",axisX:430.7,top:977.3,base:1097.5,pxPer:.0024,firstBar:433.7,step:3.8,matrixRight:548,row0:1104,rowStep:8.85,setRight:429,setPx:.00074,setAxisLen:40,setAxisY:1143,axisColor:"#999"},lcEdgeValues,lcEdgeSets,lcEdgeSetSizes,lcEdgeTicks,lcEdgeSetTicks);
upset({name:"ovc-edge-upset",axisX:598.7,top:977.3,base:1097,pxPer:.0036,firstBar:602.3,step:3.77,matrixRight:716.7,row0:1103,rowStep:8.75,setRight:596.3,setPx:.00107,setAxisLen:40,setAxisY:1141.7,axisColor:"#999"},ovcEdgeValues,ovcEdgeSets,ovcEdgeSetSizes,ovcEdgeTicks,ovcEdgeSetTicks);
</script>
</body>
</html>
